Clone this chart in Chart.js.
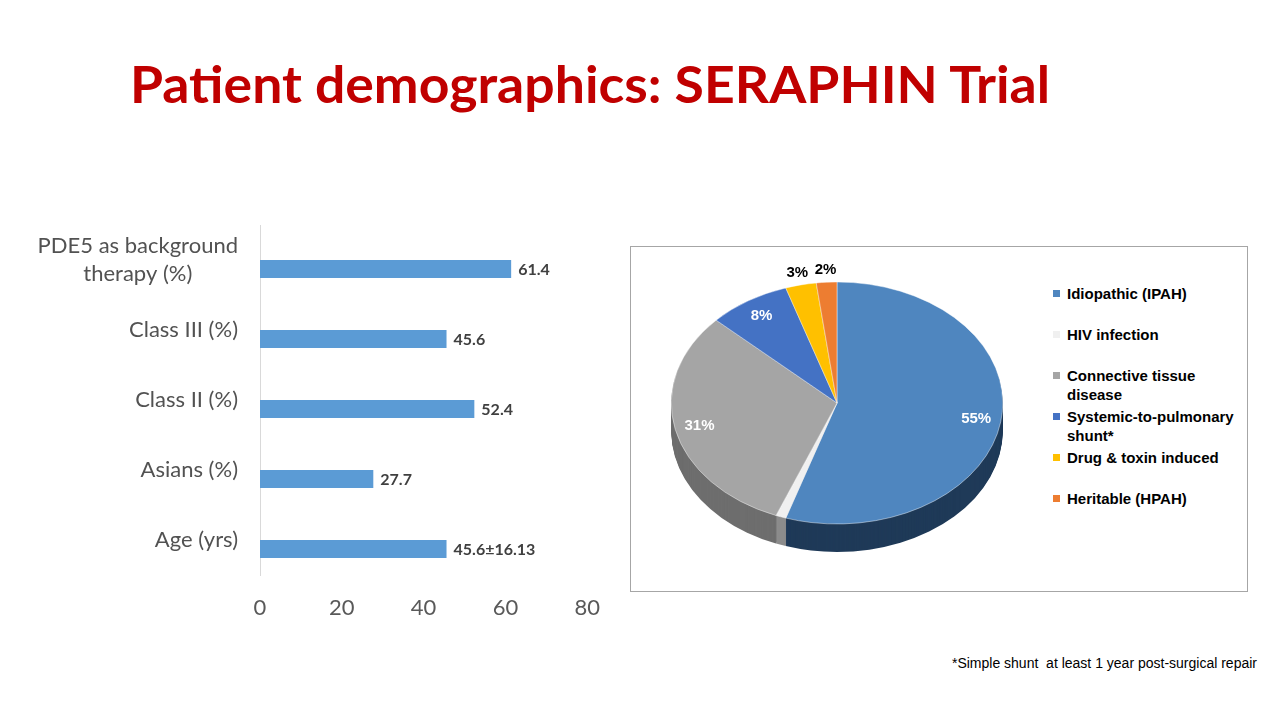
<!DOCTYPE html>
<html>
<head>
<meta charset="utf-8">
<script src="https://cdn.jsdelivr.net/npm/chart.js@4.4.1/dist/chart.umd.min.js"></script>
<style>
  body { margin: 0; width: 1280px; height: 720px; background: #fff; position: relative; overflow: hidden; font-family: Lato, sans-serif; }
  h1 { position: absolute; left: 130px; top: 52px; margin: 0; font-size: 52px; font-weight: 700; color: #c00000; white-space: nowrap; transform-origin: left top; }
  #barCanvas { position: absolute; left: 20px; top: 220px; }
  #pieBox { position: absolute; left: 630px; top: 246px; width: 618px; height: 346px; border: 1px solid #a6a6a6; box-sizing: border-box; }
  #pieCanvas { position: absolute; left: 651px; top: 217px; }
  #legend { position: absolute; left: 1053px; top: 284px; font: bold 15px "Liberation Sans", Arial, sans-serif; color: #000; }
  #legend .item { height: 41px; display: flex; align-items: flex-start; }
  #legend .box { width: 7px; height: 7px; margin: 6px 7px 0 0; flex: none; }
  #legend .txt { width: 182px; line-height: 19px; }
  .note { position: absolute; right: 23px; top: 655px; font: 14px "Liberation Sans", Arial, sans-serif; color: #000; white-space: pre; }
</style>
</head>
<body>
<h1 id="title">Patient demographics: SERAPHIN Trial</h1>
<canvas id="barCanvas" width="600" height="410"></canvas>
<div id="pieBox"></div>
<canvas id="pieCanvas" width="372" height="372"></canvas>
<div id="legend"></div>
<div class="note">*Simple shunt  at least 1 year post-surgical repair</div>
<script>
// Données du graphique à barres
const barLabels = [['PDE5 as background', 'therapy (%)'], 'Class III (%)', 'Class II (%)', 'Asians (%)', 'Age (yrs)'];
const barValues = [61.4, 45.6, 52.4, 27.7, 45.6];
const barValueText = ['61.4', '45.6', '52.4', '27.7', '45.6±16.13'];
const xTicks = [0, 20, 40, 60, 80];

// Données du camembert (étiologie)
const pieLabels = ['Idiopathic (IPAH)', 'HIV infection', 'Connective tissue disease', 'Systemic-to-pulmonary shunt*', 'Drug & toxin induced', 'Heritable (HPAH)'];
const pieShares = [55, 1, 31, 8, 3, 2];

// Couleurs
const pieColors = ['#4f86bf', '#f0f0f0', '#a5a5a5', '#4472c4', '#ffc000', '#ed7d31'];
const sideColors = ['#1f3a58', '#8c8c8c', '#6e6e6e', '#2f528f', '#bf9000', '#ae5a21'];
const TILT = 0.73;
const DEPTH = 28;

// Étiquettes de valeur au bout des barres + libellés de catégorie centrés
const barText = {
  id: 'barText',
  afterDatasetsDraw(chart) {
    const ctx = chart.ctx;
    const meta = chart.getDatasetMeta(1);
    const yScale = chart.scales.y;
    ctx.save();
    ctx.font = 'bold 16px Lato';
    ctx.fillStyle = '#404040';
    ctx.textAlign = 'left';
    ctx.textBaseline = 'middle';
    meta.data.forEach((bar, i) => {
      ctx.fillText(barValueText[i], bar.x + 7, bar.y + 1);
    });

    // libellés de l'axe y : bloc aligné à droite, lignes centrées entre elles
    ctx.font = '22px Lato';
    ctx.fillStyle = '#525252';
    ctx.textAlign = 'center';
    const right = chart.chartArea.left - 22;
    barLabels.forEach((label, i) => {
      const lines = Array.isArray(label) ? label : [label];
      const blockW = Math.max(...lines.map(l => ctx.measureText(l).width));
      const cx = right - blockW / 2;
      const cy = yScale.getPixelForTick(i);
      lines.forEach((line, j) => {
        ctx.fillText(line, cx, cy + (j - (lines.length - 1) / 2) * 28);
      });
    });
    ctx.restore();
  }
};

new Chart(document.getElementById('barCanvas'), {
  type: 'bar',
  data: {
    labels: barLabels,
    datasets: [
      { data: barLabels.map(() => null), backgroundColor: 'transparent' },
      { data: barValues, backgroundColor: '#5b9bd5' }
    ]
  },
  options: {
    indexAxis: 'y',
    responsive: false,
    animation: false,
    layout: { padding: { top: 5, right: 32 } },
    datasets: { bar: { categoryPercentage: 0.514, barPercentage: 1 } },
    plugins: { legend: { display: false }, tooltip: { enabled: false } },
    scales: {
      x: {
        min: 0, max: 80,
        afterBuildTicks(scale) { scale.ticks = xTicks.map(v => ({ value: v })); },
        ticks: { padding: 20, color: '#595959', font: { family: 'Lato', size: 22 } },
        grid: { display: false, drawTicks: false },
        border: { display: false },
        afterFit(scale) { scale.height = 55; }
      },
      y: {
        ticks: { display: false },
        grid: { display: false, drawTicks: false },
        border: { display: true, color: '#d9d9d9' },
        afterFit(scale) { scale.width = 240; scale.paddingTop = 0; scale.paddingBottom = 0; }
      }
    }
  },
  plugins: [barText]
});

// Camembert "3D" : épaisseur dessinée sous les arcs, puis dessus aplati
let tilted = false;
const pie3d = {
  id: 'pie3d',
  beforeDatasetsDraw(chart) {
    const ctx = chart.ctx;
    const arcs = chart.getDatasetMeta(0).data;
    if (!arcs.length) return;
    const cx = arcs[0].x, cy = arcs[0].y;
    for (let d = DEPTH; d > 0; d--) {
      arcs.forEach((arc, i) => {
        ctx.save();
        ctx.translate(cx, cy + d);
        ctx.scale(1, TILT);
        ctx.beginPath();
        ctx.moveTo(0, 0);
        ctx.arc(0, 0, arc.outerRadius, arc.startAngle, arc.endAngle);
        ctx.closePath();
        ctx.fillStyle = sideColors[i];
        ctx.fill();
        ctx.restore();
      });
    }
    ctx.save();
    ctx.translate(cx, cy);
    ctx.scale(1, TILT);
    ctx.translate(-cx, -cy);
    tilted = true;
  },
  afterDatasetsDraw(chart) {
    const ctx = chart.ctx;
    if (!tilted) return;
    ctx.restore();
    tilted = false;
    const arcs = chart.getDatasetMeta(0).data;
    const cx = arcs[0].x, cy = arcs[0].y;
    ctx.save();
    ctx.font = 'bold 15px "Liberation Sans", Arial';
    ctx.textAlign = 'center';
    ctx.textBaseline = 'middle';
    arcs.forEach((arc, i) => {
      const v = pieShares[i];
      if (v < 2) return;
      const mid = (arc.startAngle + arc.endAngle) / 2;
      const inside = v >= 5;
      const r = arc.outerRadius * (inside ? 0.85 : 1.1);
      ctx.fillStyle = inside ? '#fff' : '#000';
      ctx.fillText(v + '%', cx + Math.cos(mid) * r, cy + Math.sin(mid) * r * TILT);
    });
    ctx.restore();
  }
};

new Chart(document.getElementById('pieCanvas'), {
  type: 'pie',
  data: {
    labels: pieLabels,
    datasets: [{ data: pieShares, backgroundColor: pieColors, borderColor: '#ffffff', borderWidth: 0.5, clip: false }]
  },
  options: {
    responsive: false,
    animation: false,
    layout: { padding: 20 },
    plugins: { legend: { display: false }, tooltip: { enabled: false } }
  },
  plugins: [pie3d]
});

// Légende HTML
const legend = document.getElementById('legend');
pieLabels.forEach((label, i) => {
  const item = document.createElement('div');
  item.className = 'item';
  const box = document.createElement('span');
  box.className = 'box';
  box.style.background = pieColors[i];
  const txt = document.createElement('span');
  txt.className = 'txt';
  txt.textContent = label;
  item.appendChild(box);
  item.appendChild(txt);
  legend.appendChild(item);
});

// Ajuster la largeur du titre
const title = document.getElementById('title');
const w = title.getBoundingClientRect().width;
title.style.transform = 'scaleX(' + (920 / w) + ')';
</script>
</body>
</html>
